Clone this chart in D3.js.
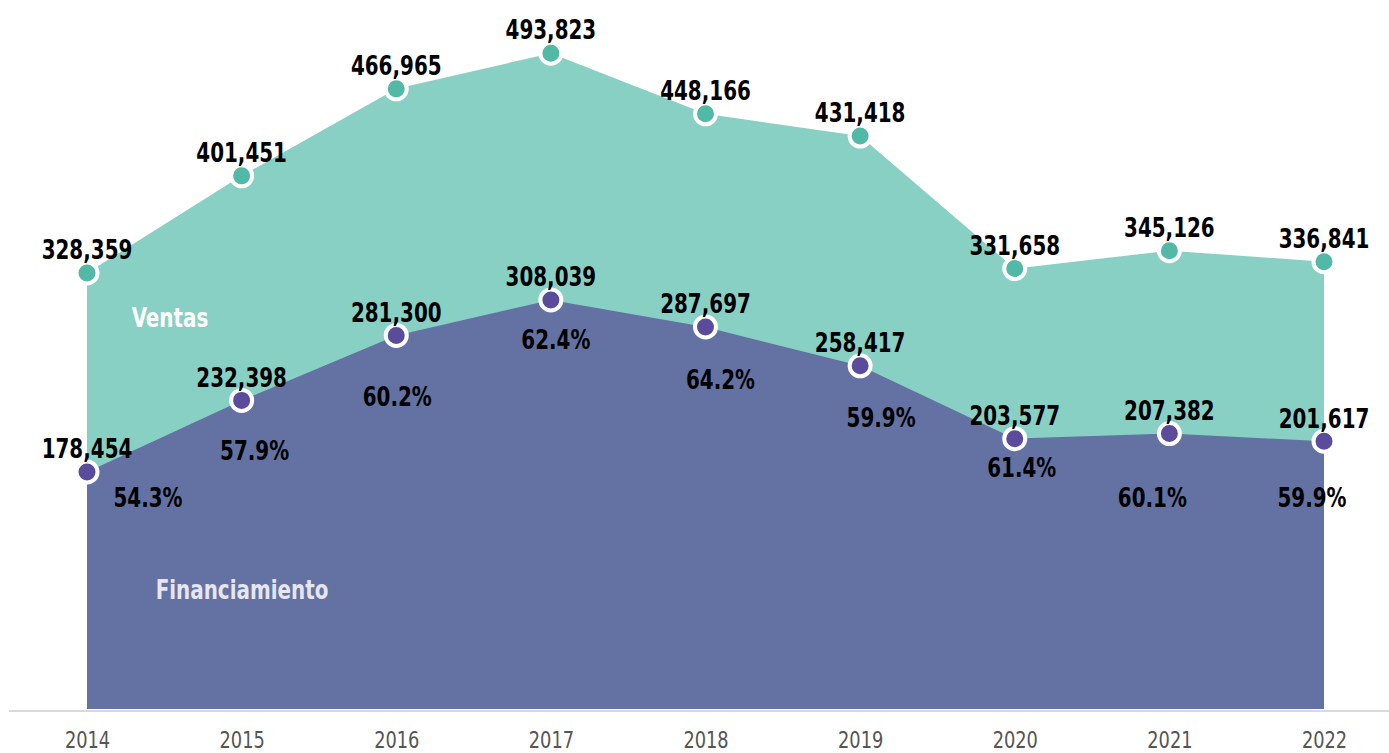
<!DOCTYPE html>
<html><head><meta charset="utf-8">
<script src="https://cdn.jsdelivr.net/npm/d3@7"></script>
<style>
html,body{margin:0;padding:0;background:#fff;}
svg text{font-family:"Liberation Sans Narrow","DejaVu Sans Condensed","DejaVu Sans",sans-serif;}
</style></head>
<body>
<svg id="chart" width="1389" height="753"></svg>
<script>
const years = ["2014","2015","2016","2017","2018","2019","2020","2021","2022"];
const ventas = [328359, 401451, 466965, 493823, 448166, 431418, 331658, 345126, 336841];
const financiamiento = [178454, 232398, 281300, 308039, 287697, 258417, 203577, 207382, 201617];
const porcentajes = ["54.3%","57.9%","60.2%","62.4%","64.2%","59.9%","61.4%","60.1%","59.9%"];

// layout nudges for the percentage labels (pixels relative to the dot)
const pctNudgeX = [61, 13, 1, 5, 15, 21, 7, -17, -12];
const pctNudgeY = [26, 50, 61, 40, 53, 52, 29, 64, 56];

const SX = 0.82; // horizontal squeeze to mimic a narrow typeface
const svg = d3.select("#chart");
const x = d3.scalePoint().domain(years).range([87, 1324]);
const y = d3.scaleLinear().domain([0, 500000]).range([709, 45]);

const rows = years.map((yr, i) => ({yr, v: ventas[i], f: financiamiento[i], p: porcentajes[i], i}));

const areaV = d3.area().x(d => x(d.yr)).y0(y(0)).y1(d => y(d.v));
const areaF = d3.area().x(d => x(d.yr)).y0(y(0)).y1(d => y(d.f));

svg.append("path").datum(rows).attr("d", areaV).attr("fill", "#89d0c4");
svg.append("path").datum(rows).attr("d", areaF).attr("fill", "#6471a3");

// axis
const axisG = svg.append("g").attr("transform", `translate(0,${y(0)+2})`);
axisG.append("line").attr("x1", 9).attr("x2", 1389).attr("y1", 0).attr("y2", 0)
  .attr("stroke", "#d9d9d9").attr("stroke-width", 2);
const ax = d3.axisBottom(x).tickSize(0).tickPadding(0).tickFormat(d => d);
const axG = axisG.append("g").call(ax);
axG.select(".domain").remove();
axG.selectAll(".tick text")
  .attr("y", 0).attr("dy", null)
  .attr("transform", "translate(0,29) scale(0.86,1)")
  .attr("dominant-baseline", "central")
  .attr("font-size", 23).attr("fill", "#555")
  .style("font-family", '"Liberation Sans Narrow","DejaVu Sans Condensed","DejaVu Sans",sans-serif');

function label(g, tx, ty, text, size, color) {
  return g.append("text")
    .attr("transform", `translate(${tx},${ty}) scale(${SX},1)`)
    .attr("text-anchor", "middle").attr("dominant-baseline", "central")
    .attr("font-size", size).attr("font-weight", "bold").attr("fill", color)
    .text(text);
}

// series labels
label(svg, 170, 318, "Ventas", 27, "#ffffff");
label(svg, 242, 590, "Financiamiento", 27, "#e6e6ee");

// dots
function dots(key, color) {
  svg.append("g").selectAll("circle").data(rows).join("circle")
    .attr("cx", d => x(d.yr)).attr("cy", d => y(d[key])).attr("r", 10.5)
    .attr("fill", color).attr("stroke", "#fff").attr("stroke-width", 4);
}
dots("v", "#52b9a7");
dots("f", "#5a4b9b");

const fmt = d3.format(",");
const gl = svg.append("g");
rows.forEach(d => {
  label(gl, x(d.yr), y(d.v) - 23, fmt(d.v), 27, "#000");
  label(gl, x(d.yr), y(d.f) - 23, fmt(d.f), 27, "#000");
  label(gl, x(d.yr) + pctNudgeX[d.i], y(d.f) + pctNudgeY[d.i], d.p, 27, "#000");
});
</script>
</body></html>
